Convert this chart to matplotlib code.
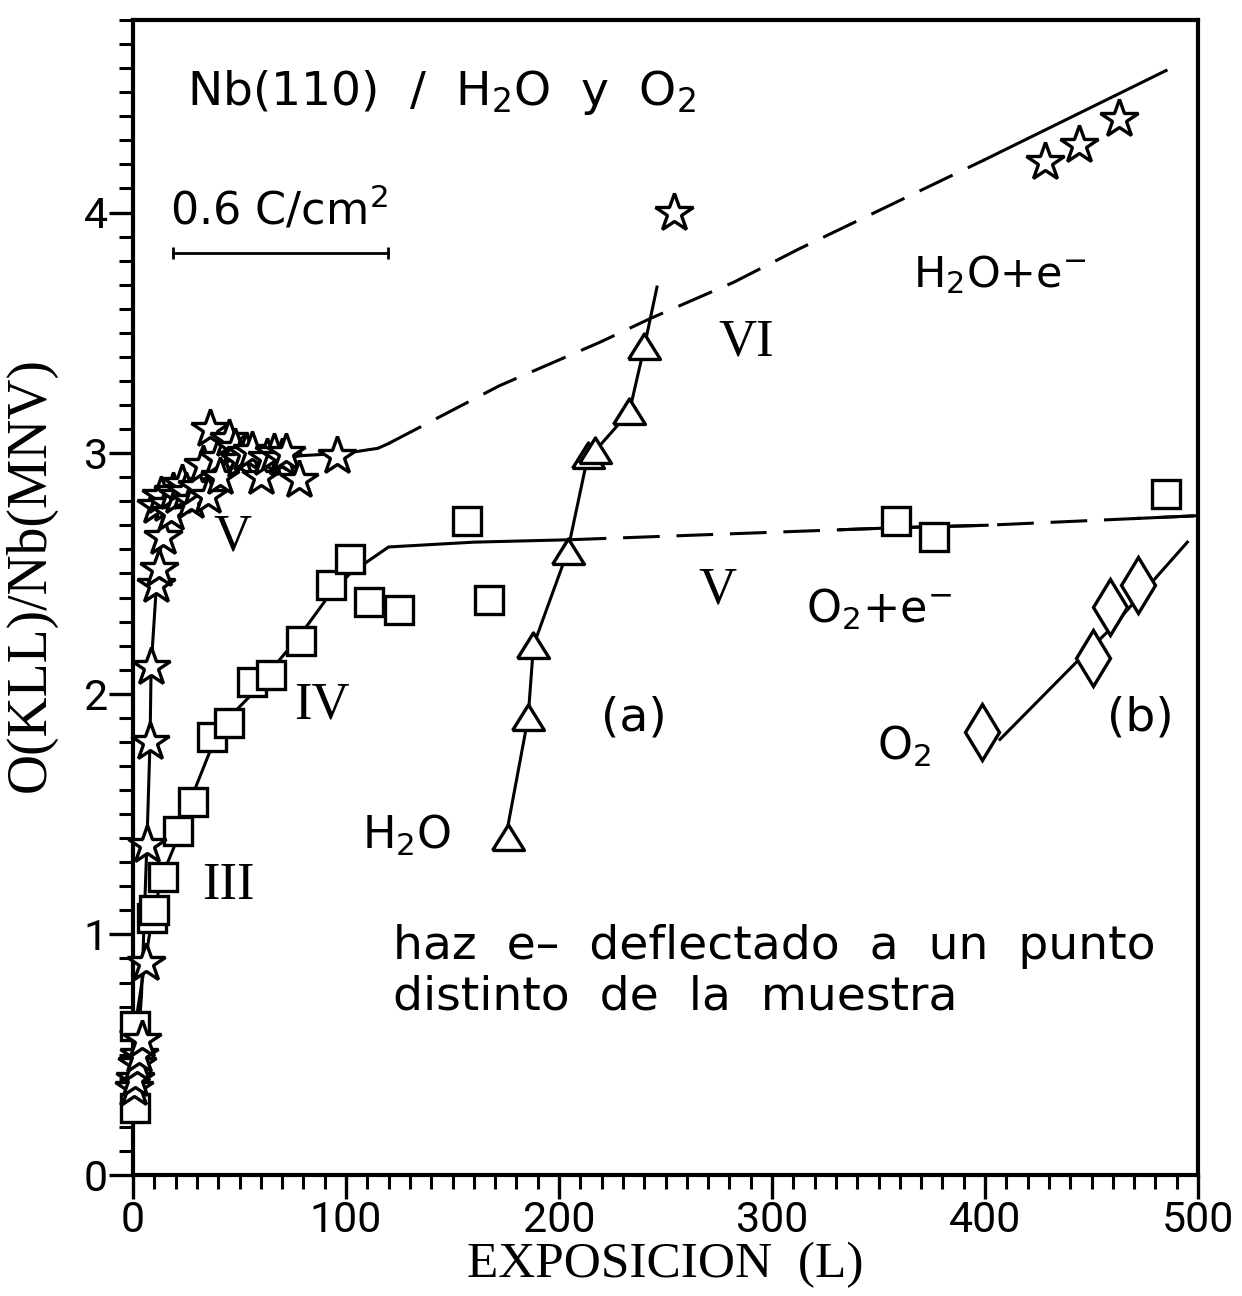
import matplotlib
matplotlib.use("Agg")
import matplotlib.pyplot as plt
import numpy as np

# ---------------- data ----------------
star_x = [0.5, 1, 2, 3, 4, 6.3, 6.5, 8, 8.5, 11, 12, 14, 11, 13, 16, 18, 19, 21, 23, 25, 27,
          30, 33, 35, 36, 40, 41, 45, 48, 50, 53, 56, 60, 63, 66, 70, 72, 78, 96,
          254, 428, 444, 463]
star_y = [0.36, 0.40, 0.46, 0.50, 0.56, 0.88, 1.37, 1.80, 2.11, 2.45, 2.52, 2.65, 2.78, 2.82, 2.79,
          2.75, 2.84, 2.82, 2.87, 2.84, 2.80, 2.86, 2.95, 2.82, 3.10, 2.98, 2.90, 3.06, 3.02,
          2.97, 3.00, 3.01, 2.90, 2.98, 3.00, 2.98, 3.00, 2.89, 2.99, 4.00, 4.21, 4.28, 4.39]

square_x = [1, 1, 9, 10, 14, 21, 28, 37, 45, 56, 65, 79, 93, 102, 111, 125, 157, 167, 358, 376, 485]
square_y = [0.28, 0.62, 1.07, 1.10, 1.24, 1.43, 1.55, 1.82, 1.88, 2.05, 2.08, 2.22, 2.45, 2.56,
            2.38, 2.35, 2.72, 2.39, 2.72, 2.65, 2.83]

tri_x = [176, 185.5, 188, 204, 213.6, 217, 233, 240]
tri_y = [1.40, 1.90, 2.20, 2.59, 2.99, 3.01, 3.17, 3.44]

dia_x = [398.6, 450.7, 458.7, 471.8]
dia_y = [1.84, 2.15, 2.36, 2.45]

# guide curves
star_fit_x = [0, 2, 4, 6.5, 8, 8.5, 11, 14, 20, 30, 45, 60, 80, 100, 115, 120]
star_fit_y = [0.35, 0.5, 0.75, 1.37, 1.80, 2.11, 2.45, 2.68, 2.80, 2.88, 2.94, 2.97, 2.99, 3.00, 3.02, 3.04]
star_dash_x = [120, 172, 219, 243, 282, 313, 400]
star_dash_y = [3.04, 3.28, 3.46, 3.56, 3.71, 3.85, 4.22]
star_tail_x = [400, 485]
star_tail_y = [4.22, 4.59]

sq_fit_x = [1, 1, 9, 14, 21, 28, 37, 45, 56, 65, 79, 93, 102, 120, 160, 205]
sq_fit_y = [0.28, 0.62, 1.07, 1.25, 1.40, 1.58, 1.78, 1.90, 2.00, 2.10, 2.25, 2.42, 2.50, 2.61, 2.63, 2.64]
sq_dash_x = [205, 358, 400, 500]
sq_dash_y = [2.64, 2.69, 2.70, 2.74]

tri_fit_x = [176, 185.5, 188, 204, 213.6, 217, 233, 240, 246]
tri_fit_y = [1.45, 1.90, 2.20, 2.59, 2.99, 3.01, 3.17, 3.44, 3.69]

dia_fit_x = [407, 445, 459, 479, 495]
dia_fit_y = [1.81, 2.15, 2.27, 2.47, 2.63]

x_ticks = [0, 100, 200, 300, 400, 500]
y_ticks = [0, 1, 2, 3, 4]

# ---------------- figure ----------------
fig = plt.figure(figsize=(12.42, 12.96), dpi=100)
ax = fig.add_axes([133/1242, 1-1175/1296, (1198-133)/1242, (1175-20)/1296])
ax.set_xlim(0, 500)
ax.set_ylim(0, 4.8)

lw = 2.2
dash = (0, (12, 5.5))

ax.plot(star_fit_x, star_fit_y, color='black', lw=lw, zorder=2)
ax.plot(star_dash_x, star_dash_y, color='black', lw=lw, ls=dash, zorder=2)
ax.plot(star_tail_x, star_tail_y, color='black', lw=lw, zorder=2)
ax.plot(sq_fit_x, sq_fit_y, color='black', lw=lw, zorder=2)
ax.plot(sq_dash_x, sq_dash_y, color='black', lw=lw, ls=dash, zorder=2)
seg = np.linspace(332, 401, 10)
ax.plot(seg, np.interp(seg, sq_dash_x, sq_dash_y), color='black', lw=lw, zorder=2)
seg2 = np.linspace(470, 500, 10)
ax.plot(seg2, np.interp(seg2, sq_dash_x, sq_dash_y), color='black', lw=lw, zorder=2)
ax.plot(tri_fit_x, tri_fit_y, color='black', lw=lw, zorder=2)
ax.plot(dia_fit_x, dia_fit_y, color='black', lw=lw, zorder=2)

mk = dict(ls='none', mfc='white', mec='black', mew=2.4, zorder=3, clip_on=False)
ax.plot(square_x, square_y, marker='s', ms=20.5, **mk)
ax.plot(star_x, star_y, marker='*', ms=29, **mk)
tri_marker = [(-1.0, -0.75), (1.0, -0.75), (0.0, 0.85), (-1.0, -0.75)]
ax.plot(tri_x, tri_y, marker=tri_marker, ms=23, **mk)
ax.plot(dia_x, dia_y, marker='d', ms=29, **mk)

# scale bar
ax.plot([18.8, 119.7], [3.83, 3.83], color='black', lw=2.0, marker='|', ms=9, mew=2.0)

# axes styling
for s in ax.spines.values():
    s.set_linewidth(3.0)
ax.set_xticks(x_ticks)
ax.set_yticks(y_ticks)
ax.set_xticks(np.arange(0, 501, 10), minor=True)
ax.set_yticks(np.arange(0, 4.81, 0.1), minor=True)
ax.tick_params(which='major', direction='out', length=17, width=2.4, pad=1)
ax.tick_params(which='minor', direction='out', length=10, width=2.2)
ax.tick_params(top=False, right=False)

tick_font = dict(family=['Roboto', 'DejaVu Sans'], size=31)
ax.set_xticklabels([str(v) for v in x_ticks], **tick_font)
ax.set_yticklabels([str(v) for v in y_ticks], **tick_font)

serif = ['Liberation Serif', 'DejaVu Serif']
ax.set_xlabel('EXPOSICION  (L)', family=serif, size=37)
ax.xaxis.set_label_coords(0.5, -0.058)
ax.set_ylabel('O(KLL)/Nb(MNV)', family=serif, size=40)
ax.yaxis.set_label_coords(-0.072, 0.52)

sans = ['DejaVu Sans']
def t(x, y, s, size, ha='left', fam=sans, **kw):
    ax.text(x, y, s, fontsize=size, ha=ha, va='center', family=fam, zorder=5, **kw)

t(25.5, 4.50, r'Nb(110)  /  H$_2$O  y  O$_2$', 34)
t(17.5, 4.01, r'0.6 C/cm$^2$', 32)
t(366, 3.74, r'H$_2$O+e$^{-}$', 31)
t(316, 2.35, r'O$_2$+e$^{-}$', 32)
t(235, 1.90, '(a)', 34, ha='center')
t(473, 1.90, '(b)', 34, ha='center')
t(362, 1.78, r'O$_2$', 32, ha='center')
t(128.6, 1.41, r'H$_2$O', 32, ha='center')
t(122, 0.95, 'haz  e–  deflectado  a  un  punto', 34)
t(122, 0.74, 'distinto  de  la  muestra', 34)

t(288, 3.46, 'VI', 38, ha='center', fam=serif)
t(46.5, 2.65, 'V', 38, ha='center', fam=serif)
t(274.6, 2.43, 'V', 38, ha='center', fam=serif)
t(88.8, 1.95, 'IV', 38, ha='center', fam=serif)
t(44.6, 1.20, 'III', 38, ha='center', fam=serif)

fig.savefig('out.png', dpi=100, facecolor='white')
